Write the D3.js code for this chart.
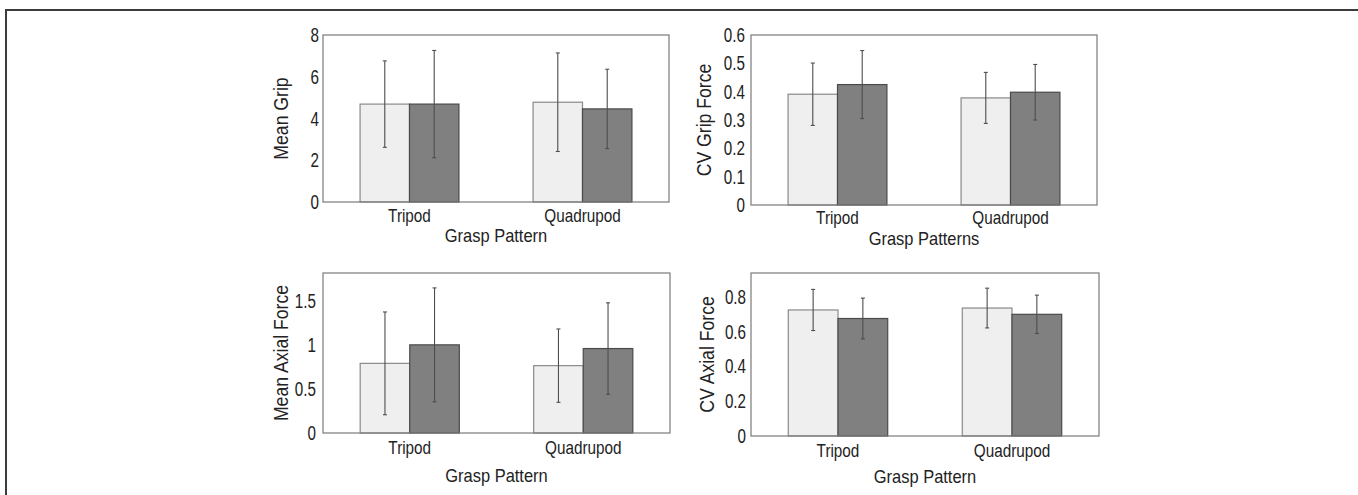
<!DOCTYPE html>
<html>
<head>
<meta charset="utf-8">
<script src="https://cdn.jsdelivr.net/npm/d3@7"></script>
<style>
  body { margin: 0; background: #fff; }
  svg { display: block; }
  text { font-family: "Liberation Sans", Arial, sans-serif; fill: #222; }
</style>
</head>
<body>
<svg width="1358" height="495"></svg>
<script>
// categories shared by all four panels
var categories = ["Tripod", "Quadrupod"];

// Mean Grip
var gripLight = [4.69, 4.78];
var gripLightErr = [2.07, 2.36];
var gripDark = [4.69, 4.46];
var gripDarkErr = [2.57, 1.90];
var gripTicks = [0, 2, 4, 6, 8];

// CV Grip Force
var cvGripLight = [0.391, 0.378];
var cvGripLightErr = [0.110, 0.090];
var cvGripDark = [0.425, 0.398];
var cvGripDarkErr = [0.120, 0.098];
var cvGripTicks = [0, 0.1, 0.2, 0.3, 0.4, 0.5, 0.6];

// Mean Axial Force
var axialLight = [0.79, 0.764];
var axialLightErr = [0.583, 0.416];
var axialDark = [1.0, 0.958];
var axialDarkErr = [0.646, 0.519];
var axialTicks = [0, 0.5, 1, 1.5];

// CV Axial Force
var cvAxialLight = [0.723, 0.734];
var cvAxialLightErr = [0.118, 0.114];
var cvAxialDark = [0.674, 0.698];
var cvAxialDarkErr = [0.117, 0.110];
var cvAxialTicks = [0, 0.2, 0.4, 0.6, 0.8];

var svg = d3.select("svg");

// outer frame (only top and left edges are in view)
svg.append("rect")
  .attr("x", 6).attr("y", 10)
  .attr("width", 1400).attr("height", 520)
  .attr("fill", "none")
  .attr("stroke", "#3c3c3c")
  .attr("stroke-width", 2);

// condensed text: no narrow font installed, so squeeze horizontally
function ctext(parent, x, y, size, sx, str, anchor) {
  return parent.append("text")
    .attr("transform", "translate(" + x + "," + y + ") scale(" + sx + ",1)")
    .attr("text-anchor", anchor || "middle")
    .attr("font-size", size)
    .text(str);
}

function drawPanel(opt) {
  var x = opt.x, y = opt.y, w = opt.w, h = opt.h;
  var g = svg.append("g").attr("transform", "translate(" + x + "," + y + ")");

  var xScale = d3.scaleBand().domain(categories).range([0, w]).padding(0);
  var inner = d3.scaleBand().domain(["light", "dark"])
    .range([0, xScale.bandwidth()])
    .paddingInner(0).paddingOuter(0.75);
  var yScale = d3.scaleLinear().domain([0, opt.ymax]).range([h, 0]);

  var rows = categories.map(function(c, i) {
    return [
      { cat: c, key: "light", v: opt.light[i], e: opt.lightErr[i] },
      { cat: c, key: "dark", v: opt.dark[i], e: opt.darkErr[i] }
    ];
  }).flat();

  // bars
  g.selectAll("rect.bar")
    .data(rows)
    .enter().append("rect")
    .attr("class", "bar")
    .attr("x", function(d) { return xScale(d.cat) + inner(d.key); })
    .attr("y", function(d) { return yScale(d.v); })
    .attr("width", inner.bandwidth())
    .attr("height", function(d) { return h - yScale(d.v); })
    .attr("fill", function(d) { return d.key == "light" ? "#efefef" : "#808080"; })
    .attr("stroke", function(d) { return d.key == "light" ? "#8a8a8a" : "#4a4a4a"; })
    .attr("stroke-width", 1.2);

  // error bars
  var eb = g.selectAll("g.err")
    .data(rows)
    .enter().append("g")
    .attr("class", "err")
    .attr("stroke", "#4d4d4d")
    .attr("stroke-width", 1.1);
  var cx = function(d) { return xScale(d.cat) + inner(d.key) + inner.bandwidth() / 2; };
  eb.append("line")
    .attr("x1", cx).attr("x2", cx)
    .attr("y1", function(d) { return yScale(d.v + d.e); })
    .attr("y2", function(d) { return yScale(d.v - d.e); });
  eb.append("line")
    .attr("x1", function(d) { return cx(d) - 2; }).attr("x2", function(d) { return cx(d) + 2; })
    .attr("y1", function(d) { return yScale(d.v + d.e); })
    .attr("y2", function(d) { return yScale(d.v + d.e); });
  eb.append("line")
    .attr("x1", function(d) { return cx(d) - 2; }).attr("x2", function(d) { return cx(d) + 2; })
    .attr("y1", function(d) { return yScale(d.v - d.e); })
    .attr("y2", function(d) { return yScale(d.v - d.e); });

  // axes box
  g.append("rect")
    .attr("width", w).attr("height", h)
    .attr("fill", "none")
    .attr("stroke", "#7a7a7a")
    .attr("stroke-width", 1.2);

  // y tick labels, no tick marks
  var sy = 0.78;
  var yAxis = g.append("g")
    .call(d3.axisLeft(yScale).tickValues(opt.ticks).tickSize(0).tickFormat(d3.format("")));
  yAxis.select(".domain").remove();
  yAxis.attr("font-family", null).attr("font-size", null);
  yAxis.selectAll("text")
    .attr("font-size", 19.5)
    .attr("x", -opt.tickGap / sy)
    .attr("transform", "scale(" + sy + ",1)")
    .attr("dy", "0.34em")
    .attr("fill", null);

  // x category labels
  categories.forEach(function(c) {
    ctext(g, xScale(c) + xScale.bandwidth() / 2, h + opt.catOff, 18, 0.85, c);
  });

  // x title
  ctext(g, w / 2, h + opt.titleOff, 18.5, 0.89, opt.xTitle);

  // y title
  g.append("text")
    .attr("transform", "translate(" + opt.yLabelX + "," + (h / 2) + ") rotate(-90) scale(0.86,1)")
    .attr("text-anchor", "middle")
    .attr("font-size", 20.5)
    .text(opt.yTitle);
}

drawPanel({ x: 323, y: 35, w: 346, h: 167, ymax: 8, ticks: gripTicks,
  light: gripLight, lightErr: gripLightErr, dark: gripDark, darkErr: gripDarkErr,
  tickGap: 4, catOff: 20, titleOff: 40, xTitle: "Grasp Pattern", yTitle: "Mean Grip", yLabelX: -35 });

drawPanel({ x: 751, y: 35, w: 346, h: 170, ymax: 0.6, ticks: cvGripTicks,
  light: cvGripLight, lightErr: cvGripLightErr, dark: cvGripDark, darkErr: cvGripDarkErr,
  tickGap: 6, catOff: 19, titleOff: 40, xTitle: "Grasp Patterns", yTitle: "CV Grip Force", yLabelX: -40 });

drawPanel({ x: 323, y: 273, w: 347, h: 160, ymax: 1.815, ticks: axialTicks,
  light: axialLight, lightErr: axialLightErr, dark: axialDark, darkErr: axialDarkErr,
  tickGap: 7, catOff: 21, titleOff: 49, xTitle: "Grasp Pattern", yTitle: "Mean Axial Force", yLabelX: -35 });

drawPanel({ x: 751, y: 273, w: 348, h: 163, ymax: 0.935, ticks: cvAxialTicks,
  light: cvAxialLight, lightErr: cvAxialLightErr, dark: cvAxialDark, darkErr: cvAxialDarkErr,
  tickGap: 5, catOff: 21, titleOff: 47, xTitle: "Grasp Pattern", yTitle: "CV Axial Force", yLabelX: -37 });
</script>
</body>
</html>
